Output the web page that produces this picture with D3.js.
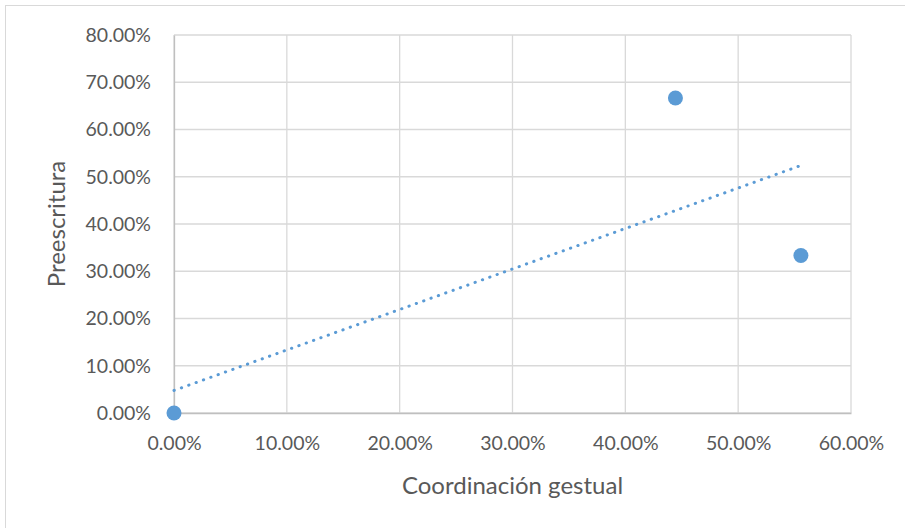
<!DOCTYPE html>
<html>
<head>
<meta charset="utf-8">
<script src="https://cdn.jsdelivr.net/npm/d3@7"></script>
<style>
  body { margin: 0; background: #fff; }
  svg text { font-family: Lato, "Open Sans", sans-serif; fill: #595959; }
</style>
</head>
<body>
<svg id="chart"></svg>
<script>
// data
const coordinacion = [0, 0.4444, 0.5556];
const preescritura = [0, 0.6667, 0.3333];
const xTicks = [0, 0.1, 0.2, 0.3, 0.4, 0.5, 0.6];
const yTicks = [0, 0.1, 0.2, 0.3, 0.4, 0.5, 0.6, 0.7, 0.8];

const width = 905;
const height = 528;
const margin = { top: 35, right: 54, bottom: 115, left: 174 };

const svg = d3.select( '#chart' ).attr( 'width', width ).attr( 'height', height );

// outer chart border
svg.append( 'rect' )
  .attr( 'x', 5.5 ).attr( 'y', 5.5 )
  .attr( 'width', width - 5 ).attr( 'height', height )
  .attr( 'fill', 'none' ).attr( 'stroke', '#d9d9d9' );

const x = d3.scaleLinear().domain( [ 0, 0.6 ] ).range( [ margin.left, width - margin.right ] );
const y = d3.scaleLinear().domain( [ 0, 0.8 ] ).range( [ height - margin.bottom, margin.top ] );

const fmt = d => ( d * 100 ).toFixed( 2 ) + '%';

// gridlines
svg.append( 'g' ).selectAll( 'line' )
  .data( xTicks ).enter().append( 'line' )
  .attr( 'x1', d => x( d ) ).attr( 'x2', d => x( d ) )
  .attr( 'y1', y( 0 ) ).attr( 'y2', y( 0.8 ) )
  .attr( 'stroke', '#d9d9d9' ).attr( 'stroke-width', 1.3 );

svg.append( 'g' ).selectAll( 'line' )
  .data( yTicks ).enter().append( 'line' )
  .attr( 'x1', x( 0 ) ).attr( 'x2', x( 0.6 ) )
  .attr( 'y1', d => y( d ) ).attr( 'y2', d => y( d ) )
  .attr( 'stroke', '#d9d9d9' ).attr( 'stroke-width', 1.3 );

// axes (labels only, gridlines drawn above)
const xAxis = svg.append( 'g' )
  .attr( 'transform', 'translate(0,' + y( 0 ) + ')' )
  .call( d3.axisBottom( x ).tickValues( xTicks ).tickFormat( fmt ).tickSize( 0 ).tickPadding( 23 ) );
xAxis.select( '.domain' ).attr( 'stroke', '#bfbfbf' ).attr( 'stroke-width', 1.3 );
xAxis.selectAll( 'text' ).style( 'font-size', '19.5px' ).attr( 'fill', '#595959' );

const yAxis = svg.append( 'g' )
  .attr( 'transform', 'translate(' + x( 0 ) + ',0)' )
  .call( d3.axisLeft( y ).tickValues( yTicks ).tickFormat( fmt ).tickSize( 0 ).tickPadding( 23 ) );
yAxis.select( '.domain' ).attr( 'stroke', '#bfbfbf' ).attr( 'stroke-width', 1.3 );
yAxis.selectAll( 'text' ).style( 'font-size', '19.5px' ).attr( 'fill', '#595959' );

// linear trendline from least squares
const mx = d3.mean( coordinacion );
const my = d3.mean( preescritura );
let sxy = 0, sxx = 0;
coordinacion.forEach( function( v, i ) {
  sxy += ( v - mx ) * ( preescritura[ i ] - my );
  sxx += ( v - mx ) * ( v - mx );
} );
const slope = sxy / sxx;
const intercept = my - slope * mx;
const xMin = d3.min( coordinacion ), xMax = d3.max( coordinacion );

svg.append( 'line' )
  .attr( 'x1', x( xMin ) ).attr( 'y1', y( intercept + slope * xMin ) )
  .attr( 'x2', x( xMax ) ).attr( 'y2', y( intercept + slope * xMax ) )
  .attr( 'stroke', '#5b9bd5' ).attr( 'stroke-width', 3 )
  .attr( 'stroke-linecap', 'round' ).attr( 'stroke-dasharray', '0.3,7.5' );

// points
svg.append( 'g' ).selectAll( 'circle' )
  .data( coordinacion ).enter().append( 'circle' )
  .attr( 'cx', d => x( d ) )
  .attr( 'cy', ( d, i ) => y( preescritura[ i ] ) )
  .attr( 'r', 7.5 )
  .attr( 'fill', '#5b9bd5' );

// axis titles
svg.append( 'text' )
  .attr( 'x', ( x( 0 ) + x( 0.6 ) ) / 2 ).attr( 'y', 494 )
  .attr( 'text-anchor', 'middle' ).style( 'font-size', '24px' )
  .text( 'Coordinación gestual' );

svg.append( 'text' )
  .attr( 'transform', 'translate(65,' + ( ( y( 0 ) + y( 0.8 ) ) / 2 ) + ') rotate(-90)' )
  .attr( 'text-anchor', 'middle' ).style( 'font-size', '24px' )
  .text( 'Preescritura' );
</script>
</body>
</html>
